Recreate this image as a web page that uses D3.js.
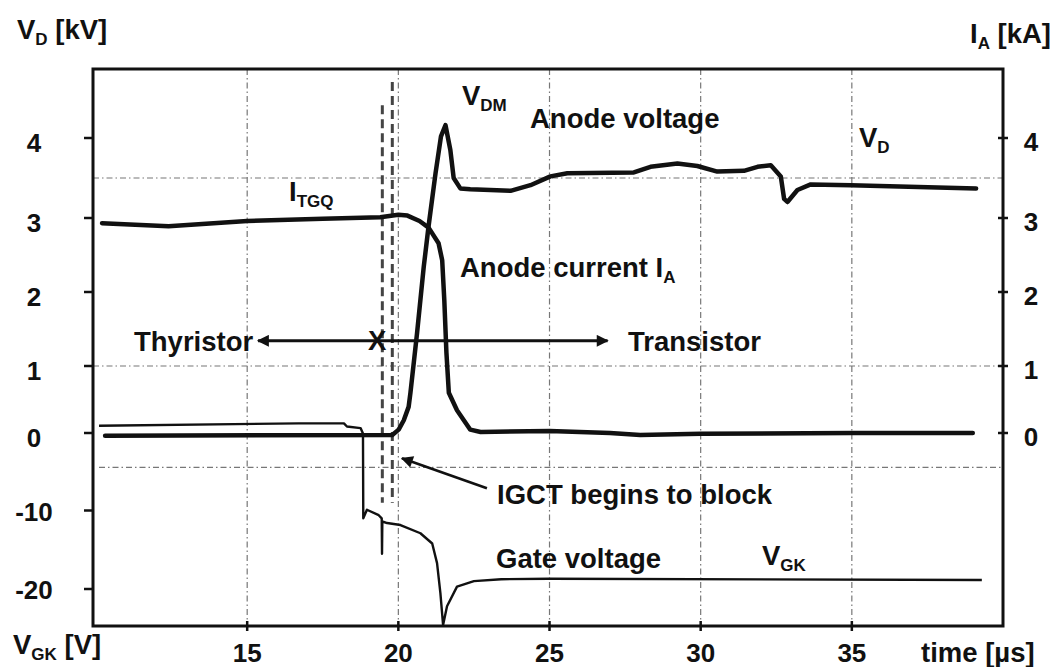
<!DOCTYPE html>
<html>
<head>
<meta charset="utf-8">
<script src="https://cdn.jsdelivr.net/npm/d3@7"></script>
<style>
  body { margin: 0; background: #fff; }
  text { font-family: "Liberation Sans", Arial, sans-serif; font-weight: bold; fill: #111; }
</style>
</head>
<body>
<div id="chart"></div>
<script>
// time [us] vs anode voltage [kV]
const anodeVoltage = [
  [10.3, -0.04], [19.8, -0.03], [20.01, 0.05], [20.18, 0.19], [20.34, 0.39], [20.4, 0.6],
  [20.62, 1.45], [20.84, 2.34], [21.0, 2.89], [21.23, 3.56], [21.41, 4.02], [21.56, 4.16],
  [21.72, 3.85], [21.83, 3.5], [22.05, 3.37], [22.38, 3.36], [23.71, 3.34], [24.37, 3.41],
  [25.03, 3.52], [25.59, 3.56], [27.79, 3.57], [28.34, 3.64], [29.23, 3.68], [29.89, 3.65],
  [30.55, 3.58], [31.43, 3.59], [31.88, 3.64], [32.32, 3.66], [32.65, 3.52], [32.76, 3.24],
  [32.87, 3.2], [33.2, 3.35], [33.64, 3.42], [34.97, 3.41], [39.11, 3.37]
];
// time [us] vs anode current [kA]
const anodeCurrent = [
  [10.2, 2.93], [12.4, 2.89], [15, 2.96], [17.5, 2.99], [19.4, 3.01], [20.0, 3.04],
  [20.3, 3.03], [20.7, 2.96], [21.0, 2.87], [21.33, 2.66], [21.45, 2.43], [21.52, 1.89],
  [21.59, 1.18], [21.67, 0.6], [21.94, 0.34], [22.38, 0.05], [22.72, 0.015], [25, 0.03],
  [27, 0.0], [28, -0.03], [30, -0.01], [35, 0.0], [39, 0.0]
];
// time [us] vs gate voltage [V]
const gateVoltage = [
  [10.1, 0.8], [16.7, 1.1], [18.2, 1.1], [18.3, 0.7], [18.75, 0.5], [18.83, -0.2],
  [18.84, -11.0], [18.96, -9.9], [19.35, -10.6], [19.45, -11.0], [19.46, -15.5], [19.47, -11.4],
  [19.63, -11.6], [20.07, -11.85], [20.73, -12.9], [21.12, -14.2], [21.28, -16.7], [21.39, -20.5],
  [21.48, -24.6], [21.61, -22.2], [21.94, -19.7], [22.5, -19.0], [23.4, -18.75], [25, -18.7],
  [39.3, -18.85]
];

const xTicks = [15, 20, 25, 30, 35];
const kvTicks = [0, 1, 2, 3, 4];
const gkTicks = [-10, -20];
const gridKV = [3.5, 1];
const gridGK = [-4.5];
// dashed switching markers: time, top [kV], bottom [V]
const markers = [[19.47, 4.41, -9.0], [19.8, 4.7, -9.0]];
// double arrow Thyristor <-> Transistor: from, to [us], level [kV]
const regimeArrow = [15.36, 26.92, 1.34];
// "IGCT begins to block" arrow: tail [us, V], tip [us, V]
const blockArrow = [[22.93, -7.17], [20.12, -3.35]];

const W = 1054, H = 667;
const frame = { left: 93, top: 69, right: 1003, bottom: 626 };

const svg = d3.select("#chart").append("svg")
  .attr("width", W).attr("height", H);

const x = d3.scaleLinear().domain([9.9, 40]).range([frame.left, frame.right]);
// scanned original has slightly uneven kV spacing
const yKV = d3.scaleLinear().domain(kvTicks).range([433, 366, 292, 218, 138]);
const yGK = d3.scaleLinear().domain([0, -20]).range([432, 589]);

const defs = svg.append("defs");
defs.append("marker")
  .attr("id", "head")
  .attr("viewBox", "0 0 10 10")
  .attr("refX", 9).attr("refY", 5)
  .attr("markerUnits", "userSpaceOnUse")
  .attr("markerWidth", 17).attr("markerHeight", 12)
  .attr("orient", "auto-start-reverse")
  .append("path").attr("d", "M0,0L10,5L0,10Z").attr("fill", "#111");

// grid
const grid = svg.append("g")
  .attr("stroke", "#777").attr("stroke-width", 1.2)
  .attr("stroke-dasharray", "6,3,1.5,3").attr("fill", "none");
grid.selectAll(".gx").data(xTicks).join("line")
  .attr("x1", d => x(d)).attr("x2", d => x(d))
  .attr("y1", frame.top).attr("y2", frame.bottom);
grid.selectAll(".gk").data(gridKV).join("line")
  .attr("x1", frame.left).attr("x2", frame.right)
  .attr("y1", d => yKV(d)).attr("y2", d => yKV(d));
grid.selectAll(".gg").data(gridGK).join("line")
  .attr("x1", frame.left + 6).attr("x2", frame.right)
  .attr("y1", d => yGK(d)).attr("y2", d => yGK(d));

// switching markers
svg.append("g").selectAll("line").data(markers).join("line")
  .attr("x1", d => x(d[0])).attr("x2", d => x(d[0]))
  .attr("y1", d => yKV(d[1])).attr("y2", d => yGK(d[2]))
  .attr("stroke", "#444").attr("stroke-width", 3)
  .attr("stroke-dasharray", "9,5");

// curves
const lineKV = d3.line().x(d => x(d[0])).y(d => yKV(d[1]));
const lineGK = d3.line().x(d => x(d[0])).y(d => yGK(d[1]));

svg.append("path").datum(gateVoltage)
  .attr("fill", "none").attr("stroke", "#111").attr("stroke-width", 2.4)
  .attr("stroke-linejoin", "round").attr("d", lineGK);
svg.append("path").datum(anodeCurrent)
  .attr("fill", "none").attr("stroke", "#111").attr("stroke-width", 4.5)
  .attr("stroke-linejoin", "round").attr("stroke-linecap", "round").attr("d", lineKV);
svg.append("path").datum(anodeVoltage)
  .attr("fill", "none").attr("stroke", "#111").attr("stroke-width", 4.5)
  .attr("stroke-linejoin", "round").attr("stroke-linecap", "round").attr("d", lineKV);

// arrows
svg.append("line")
  .attr("x1", x(regimeArrow[0])).attr("x2", x(regimeArrow[1]))
  .attr("y1", yKV(regimeArrow[2])).attr("y2", yKV(regimeArrow[2]))
  .attr("stroke", "#111").attr("stroke-width", 3)
  .attr("marker-start", "url(#head)").attr("marker-end", "url(#head)");
svg.append("line")
  .attr("x1", x(blockArrow[0][0])).attr("y1", yGK(blockArrow[0][1]))
  .attr("x2", x(blockArrow[1][0])).attr("y2", yGK(blockArrow[1][1]))
  .attr("stroke", "#111").attr("stroke-width", 2.6)
  .attr("marker-end", "url(#head)");

// frame
svg.append("rect")
  .attr("x", frame.left).attr("y", frame.top)
  .attr("width", frame.right - frame.left).attr("height", frame.bottom - frame.top)
  .attr("fill", "none").attr("stroke", "#111").attr("stroke-width", 3);

// ticks
const ticks = svg.append("g").attr("stroke", "#111").attr("stroke-width", 2.5);
ticks.selectAll(".tl").data(kvTicks).join("line")
  .attr("x1", frame.left - 9).attr("x2", frame.left)
  .attr("y1", d => yKV(d)).attr("y2", d => yKV(d));
ticks.selectAll(".tg").data(gkTicks).join("line")
  .attr("x1", frame.left - 9).attr("x2", frame.left)
  .attr("y1", d => yGK(d)).attr("y2", d => yGK(d));
ticks.selectAll(".tr").data(kvTicks).join("line")
  .attr("x1", frame.right - 5).attr("x2", frame.right + 5)
  .attr("y1", d => yKV(d)).attr("y2", d => yKV(d));
ticks.selectAll(".tb").data(xTicks).join("line")
  .attr("x1", d => x(d)).attr("x2", d => x(d))
  .attr("y1", frame.bottom - 5).attr("y2", frame.bottom + 5);

// tick labels
const fs = 26;
svg.append("g").selectAll("text").data(kvTicks).join("text")
  .attr("x", 34).attr("y", d => yKV(d) + 14)
  .attr("text-anchor", "middle").style("font-size", fs + "px").text(d => d);
svg.append("g").selectAll("text").data(gkTicks).join("text")
  .attr("x", 34).attr("y", d => yGK(d) + 10)
  .attr("text-anchor", "middle").style("font-size", fs + "px").text(d => d);
svg.append("g").selectAll("text").data(kvTicks).join("text")
  .attr("x", 1031).attr("y", d => yKV(d) + 13)
  .attr("text-anchor", "middle").style("font-size", fs + "px").text(d => d);
svg.append("g").selectAll("text").data(xTicks).join("text")
  .attr("x", d => x(d)).attr("y", 662)
  .attr("text-anchor", "middle").style("font-size", fs + "px").text(d => d);

// text with subscripts
const labelSize = 27.5;
function label(px, py, parts) {
  const t = svg.append("text").attr("x", px).attr("y", py).style("font-size", labelSize + "px");
  let shift = 0;
  parts.forEach(p => {
    const s = t.append("tspan").text(p[0]);
    if (p[1] === "sub") {
      s.attr("dy", 6 - shift).style("font-size", "17px");
      shift = 6;
    } else if (shift) {
      s.attr("dy", -shift);
      shift = 0;
    }
  });
  return t;
}

label(17, 39, [["V"], ["D", "sub"], [" [kV]"]]);
label(970, 43, [["I"], ["A", "sub"], [" [kA]"]]);
label(13, 654, [["V"], ["GK", "sub"], [" [V]"]]);
label(921, 662, [["time [µs]"]]);
label(462, 105, [["V"], ["DM", "sub"]]);
label(530, 128, [["Anode voltage"]]);
label(859, 147, [["V"], ["D", "sub"]]);
label(289, 201, [["I"], ["TGQ", "sub"]]);
label(460, 277, [["Anode current I"], ["A", "sub"]]);
label(134, 351, [["Thyristor"]]);
label(628, 351, [["Transistor"]]);
label(368, 350, [["X"]]);
label(497, 504, [["IGCT begins to block"]]);
label(496, 568, [["Gate voltage"]]);
label(762, 565, [["V"], ["GK", "sub"]]);
</script>
</body>
</html>
